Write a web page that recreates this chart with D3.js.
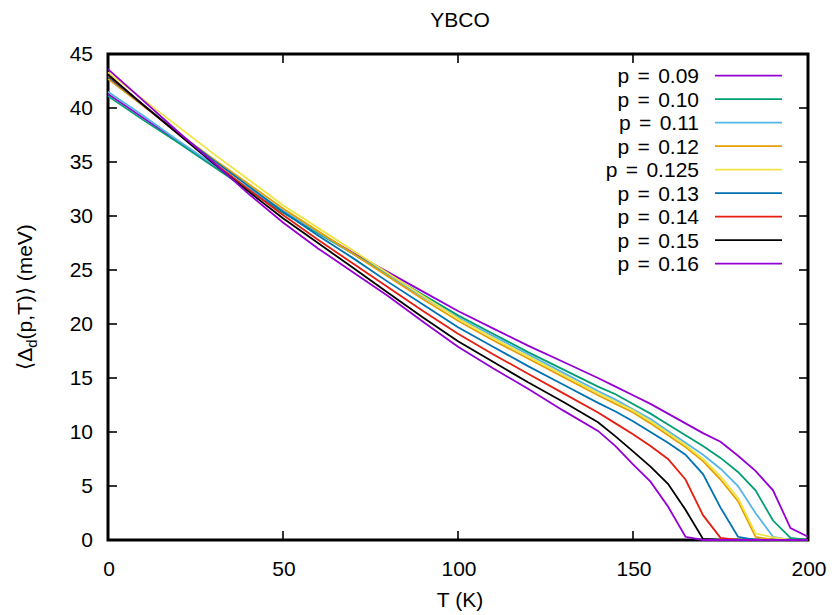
<!DOCTYPE html>
<html>
<head>
<meta charset="utf-8">
<script src="https://cdn.jsdelivr.net/npm/d3@7"></script>
<style>
  body { margin: 0; background: #fff; }
  text { font-family: 'Liberation Sans', Arial, sans-serif; fill: #000; }
</style>
</head>
<body>
<svg width="835" height="615"></svg>
<script>
// temperatures (K)
let temps = [0, 10, 20, 30, 40, 50, 60, 70, 80, 90, 100, 110, 120, 130, 140,
  145, 150, 155, 160, 165, 170, 175, 180, 185, 190, 195, 200]

let labels = ['p = 0.09', 'p = 0.10', 'p = 0.11', 'p = 0.12', 'p = 0.125',
  'p = 0.13', 'p = 0.14', 'p = 0.15', 'p = 0.16']

let colors = ['#9400d3', '#009e73', '#56b4e9', '#e69f00', '#f0e442',
  '#0072b2', '#e51e10', '#000000', '#9400d3']

// <Delta_d(p,T)> in meV, one array per doping
let gap009 = [41.3, 39.1, 36.9, 34.7, 32.5, 30.4, 28.5, 26.6, 24.8, 23.0, 21.2, 19.6, 18.0, 16.5, 15.0,
  14.2, 13.4, 12.6, 11.7, 10.8, 9.9, 9.1, 7.8, 6.4, 4.6, 1.1, 0.3]
let gap010 = [41.1, 38.9, 36.8, 34.6, 32.4, 30.3, 28.4, 26.5, 24.6, 22.7, 20.8, 19.1, 17.4, 15.8, 14.2,
  13.5, 12.6, 11.7, 10.7, 9.7, 8.7, 7.6, 6.3, 4.6, 1.8, 0.2, 0]
let gap011 = [41.5, 39.3, 37.0, 34.8, 32.6, 30.5, 28.5, 26.5, 24.5, 22.5, 20.6, 18.9, 17.2, 15.5, 13.8,
  13.0, 12.1, 11.2, 10.1, 9.0, 7.9, 6.6, 5.0, 2.5, 0.3, 0, 0]
let gap012 = [42.7, 40.2, 37.7, 35.3, 33.0, 30.7, 28.6, 26.5, 24.4, 22.3, 20.3, 18.5, 16.8, 15.1, 13.4,
  12.6, 11.8, 10.8, 9.7, 8.6, 7.3, 5.6, 3.6, 0.3, 0, 0, 0]
let gap0125 = [43.3, 40.8, 38.3, 35.8, 33.4, 31.0, 28.9, 26.8, 24.7, 22.6, 20.5, 18.7, 17.0, 15.3, 13.6,
  12.8, 12.0, 11.0, 9.9, 8.8, 7.5, 5.9, 3.9, 0.6, 0.25, 0, 0]
let gap013 = [42.9, 40.3, 37.7, 35.2, 32.8, 30.4, 28.2, 26.1, 23.9, 21.8, 19.7, 17.9, 16.1, 14.4, 12.7,
  11.9, 11.0, 10.0, 9.0, 7.9, 6.1, 3.0, 0.3, 0, 0, 0, 0]
let gap014 = [43.0, 40.3, 37.6, 35.0, 32.5, 30.1, 27.8, 25.6, 23.4, 21.2, 19.1, 17.2, 15.4, 13.6, 11.8,
  10.8, 9.8, 8.7, 7.5, 5.6, 2.3, 0.2, 0, 0, 0, 0, 0]
let gap015 = [43.1, 40.3, 37.6, 34.9, 32.3, 29.8, 27.5, 25.2, 22.9, 20.6, 18.4, 16.5, 14.6, 12.8, 10.9,
  9.6, 8.2, 6.8, 5.2, 2.8, 0.1, 0, 0, 0, 0, 0, 0]
let gap016 = [43.6, 40.7, 37.8, 35.0, 32.1, 29.4, 27.0, 24.8, 22.6, 20.2, 17.9, 15.9, 14.0, 12.0, 10.1,
  8.7, 7.0, 5.4, 3.1, 0.3, 0, 0, 0, 0, 0, 0, 0]

let series = [gap009, gap010, gap011, gap012, gap0125, gap013, gap014, gap015, gap016]

let xTicks = [0, 50, 100, 150, 200]
let yTicks = [0, 5, 10, 15, 20, 25, 30, 35, 40, 45]

let plotLeft = 108
let plotRight = 808
let plotTop = 54
let plotBottom = 540
let tickLen = 9
let fontSize = 21

let svg = d3.select('svg')

let x = d3.scaleLinear().domain([0, 200]).range([plotLeft, plotRight])
let y = d3.scaleLinear().domain([0, 45]).range([plotBottom, plotTop])

// title
svg.append('text')
  .attr('x', (plotLeft + plotRight) / 2 + 2)
  .attr('y', 27)
  .attr('text-anchor', 'middle')
  .attr('font-size', fontSize)
  .text('YBCO')

// ticks, inward on all four sides
let axisG = svg.append('g')
  .attr('stroke', '#000')
  .attr('stroke-width', 1.6)

xTicks.forEach(function (t) {
  if (t === 0 || t === 200) return
  axisG.append('line').attr('x1', x(t)).attr('x2', x(t)).attr('y1', plotBottom).attr('y2', plotBottom - tickLen)
  axisG.append('line').attr('x1', x(t)).attr('x2', x(t)).attr('y1', plotTop).attr('y2', plotTop + tickLen)
})
yTicks.forEach(function (t) {
  if (t === 0 || t === 45) return
  axisG.append('line').attr('x1', plotLeft).attr('x2', plotLeft + tickLen).attr('y1', y(t)).attr('y2', y(t))
  axisG.append('line').attr('x1', plotRight).attr('x2', plotRight - tickLen).attr('y1', y(t)).attr('y2', y(t))
})

// tick labels
svg.append('g').selectAll('text')
  .data(xTicks)
  .enter().append('text')
  .attr('x', d => x(d) + 1)
  .attr('y', 576)
  .attr('text-anchor', 'middle')
  .attr('font-size', fontSize)
  .text(d => d)

svg.append('g').selectAll('text')
  .data(yTicks)
  .enter().append('text')
  .attr('x', 93)
  .attr('y', d => y(d) + 7)
  .attr('text-anchor', 'end')
  .attr('font-size', fontSize)
  .text(d => d)

// axis titles
svg.append('text')
  .attr('x', (plotLeft + plotRight) / 2 + 2)
  .attr('y', 607)
  .attr('text-anchor', 'middle')
  .attr('font-size', fontSize)
  .text('T (K)')

let yTitle = svg.append('text')
  .attr('transform', 'translate(32,' + (plotTop + plotBottom) / 2 + ') rotate(-90)')
  .attr('text-anchor', 'middle')
  .attr('font-size', fontSize)
yTitle.append('tspan').text('\u27E8\u0394')
yTitle.append('tspan').attr('font-size', 15).attr('dy', 5).text('d')
yTitle.append('tspan').attr('dy', -5).text('(p,T)\u27E9 (meV)')

// frame
svg.append('rect')
  .attr('x', plotLeft)
  .attr('y', plotTop)
  .attr('width', plotRight - plotLeft)
  .attr('height', plotBottom - plotTop)
  .attr('fill', 'none')
  .attr('stroke', '#000')
  .attr('stroke-width', 3)

// curves
let line = d3.line()
  .x((d, i) => x(temps[i]))
  .y(d => y(d))

let curves = svg.append('g')
series.forEach(function (s, k) {
  curves.append('path')
    .attr('d', line(s))
    .attr('fill', 'none')
    .attr('stroke', colors[k])
    .attr('stroke-width', 1.8)
    .attr('stroke-linejoin', 'miter')
})

// legend
let legend = svg.append('g')
labels.forEach(function (l, k) {
  let ly = 75.7 + k * 23.5
  legend.append('text')
    .attr('x', 699)
    .attr('y', ly + 7.5)
    .attr('text-anchor', 'end')
    .attr('font-size', fontSize)
    .attr('word-spacing', 2.5)
    .text(l)
  legend.append('line')
    .attr('x1', 715)
    .attr('x2', 782)
    .attr('y1', ly)
    .attr('y2', ly)
    .attr('stroke', colors[k])
    .attr('stroke-width', 1.8)
})
</script>
</body>
</html>
